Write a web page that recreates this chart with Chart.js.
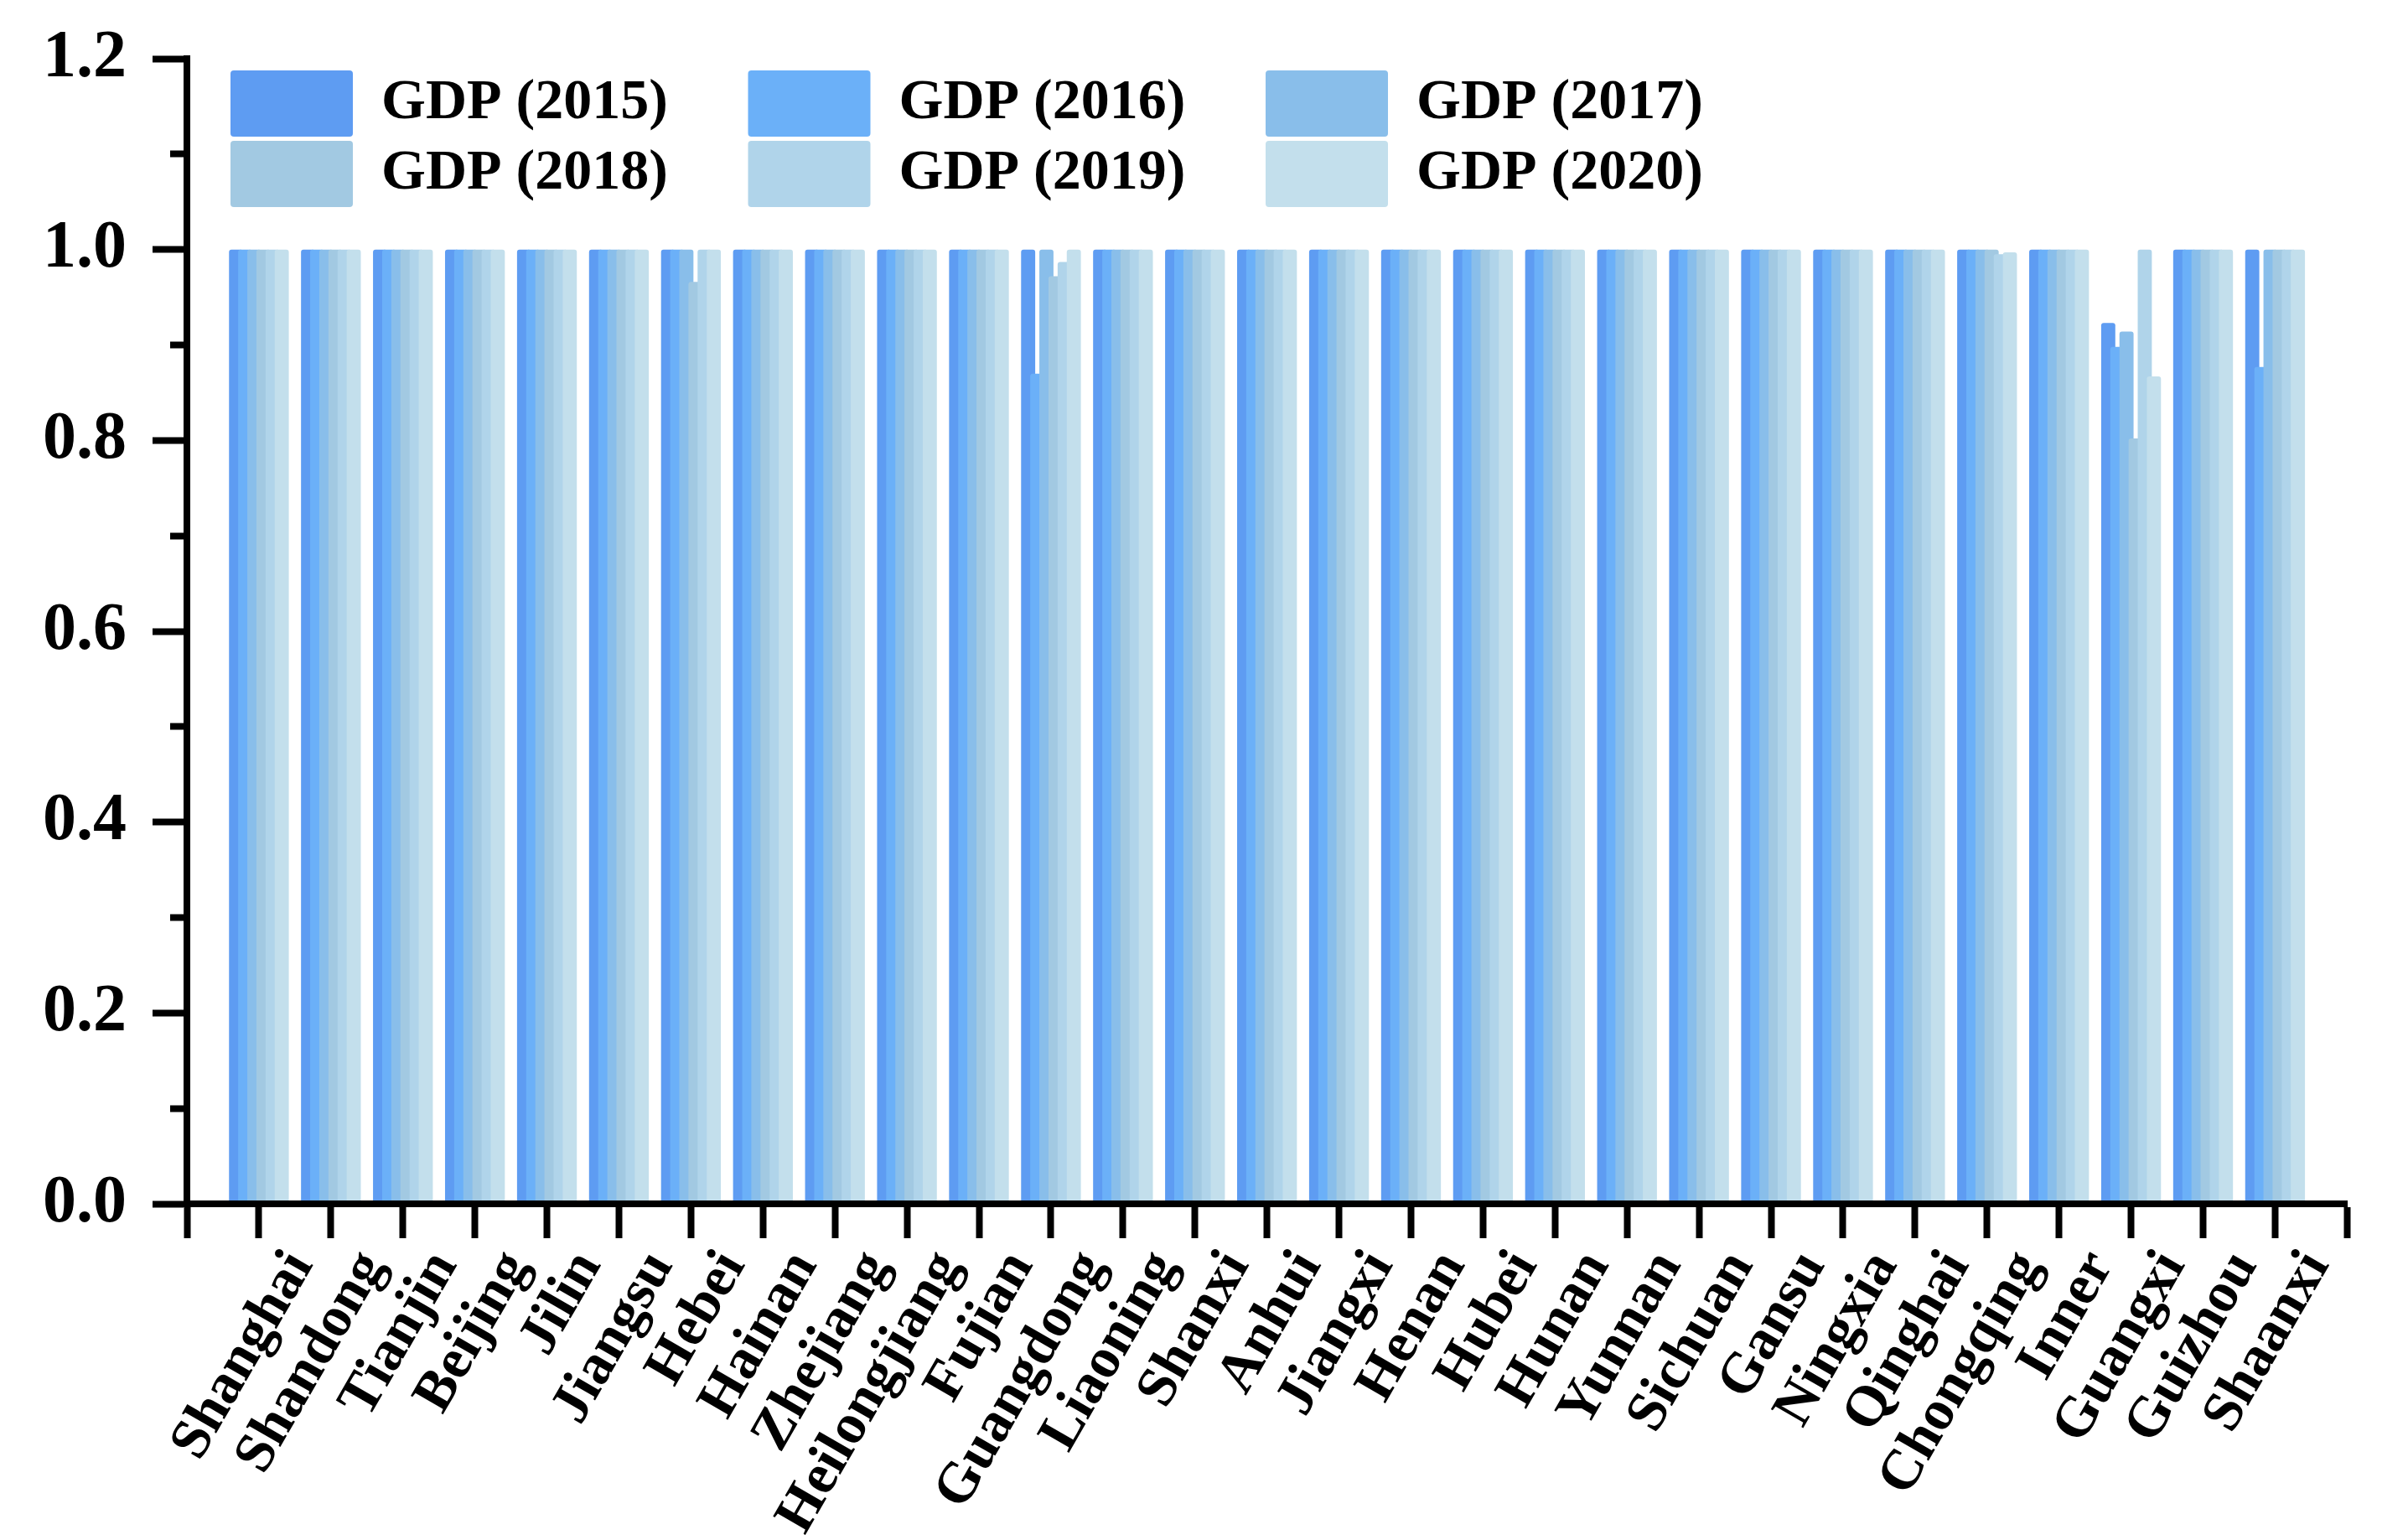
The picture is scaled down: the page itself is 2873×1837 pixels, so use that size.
<!DOCTYPE html>
<html>
<head>
<meta charset="utf-8">
<script src="https://cdn.jsdelivr.net/npm/chart.js@4.4.1/dist/chart.umd.min.js"></script>
<style>
  html, body { margin: 0; padding: 0; background: #ffffff; }
  #wrap { width: 2873px; height: 1837px; position: relative; }
  canvas { display: block; }
</style>
</head>
<body>
<div id="wrap"><canvas id="c" width="2873" height="1837"></canvas></div>
<script>
const categories = ['Shanghai','Shandong','Tianjin','Beijing','Jilin','Jiangsu','Hebei','Hainan','Zhejiang','Heilongjiang','Fujian','Guangdong','Liaoning','Shanxi','Anhui','Jiangxi','Henan','Hubei','Hunan','Yunnan','Sichuan','Gansu','Ningxia','Qinghai','Chongqing','Inner','Guangxi','Guizhou','Shaanxi'];

const seriesNames = ['GDP (2015)','GDP (2016)','GDP (2017)','GDP (2018)','GDP (2019)','GDP (2020)'];

//                Sha Shd Tia Bei Jil Jsu Heb    Hai Zhe Hei Fuj Gdg    Lia Sxi Anh Jxi Hen Hub Hun Yun Sic Gan Nin Qin Chq    Inn Gxi    Gzh Snx
const gdp2015 = [1,  1,  1,  1,  1,  1,  1,     1,  1,  1,  1,  1,     1,  1,  1,  1,  1,  1,  1,  1,  1,  1,  1,  1,  1,     1,  0.923, 1,  1];
const gdp2016 = [1,  1,  1,  1,  1,  1,  1,     1,  1,  1,  1,  0.870, 1,  1,  1,  1,  1,  1,  1,  1,  1,  1,  1,  1,  1,     1,  0.898, 1,  0.877];
const gdp2017 = [1,  1,  1,  1,  1,  1,  1,     1,  1,  1,  1,  1,     1,  1,  1,  1,  1,  1,  1,  1,  1,  1,  1,  1,  1,     1,  0.914, 1,  1];
const gdp2018 = [1,  1,  1,  1,  1,  1,  0.966, 1,  1,  1,  1,  0.972, 1,  1,  1,  1,  1,  1,  1,  1,  1,  1,  1,  1,  1,     1,  0.802, 1,  1];
const gdp2019 = [1,  1,  1,  1,  1,  1,  1,     1,  1,  1,  1,  0.987, 1,  1,  1,  1,  1,  1,  1,  1,  1,  1,  1,  1,  0.995, 1,  1,     1,  1];
const gdp2020 = [1,  1,  1,  1,  1,  1,  1,     1,  1,  1,  1,  1,     1,  1,  1,  1,  1,  1,  1,  1,  1,  1,  1,  1,  0.997, 1,  0.867, 1,  1];

const yTickLabels = ['0.0','0.2','0.4','0.6','0.8','1.0','1.2'];

const seriesValues = [gdp2015, gdp2016, gdp2017, gdp2018, gdp2019, gdp2020];
const seriesColors = ['#5e9cf2','#6bb0f8','#89beea','#a2c9e2','#b0d4ea','#c3dfec'];

// axis runs one full category step beyond the first and last category
const xLabels = [''].concat(categories, ['']);

const datasets = seriesValues.map((vals, i) => ({
  label: seriesNames[i],
  data: [null].concat(vals, [null]),
  backgroundColor: seriesColors[i],
  borderWidth: 0,
  borderRadius: 3,
  borderSkipped: 'start',
  categoryPercentage: 0.7612,
  barPercentage: 1.545
}));

// later series painted on top of earlier ones
const drawOrder = {
  id: 'drawOrder',
  beforeDatasetsDraw(chart) {
    const ctx = chart.ctx, a = chart.chartArea;
    ctx.save();
    ctx.beginPath();
    ctx.rect(a.left, a.top, a.right - a.left, a.bottom - a.top);
    ctx.clip();
    chart.getSortedVisibleDatasetMetas().forEach(m => m.controller.draw());
    ctx.restore();
    return false;
  }
};

// legend sits inside the plot, reserving no layout space
const legendPlacer = {
  id: 'legendPlacer',
  beforeLayout(chart) {
    const lg = chart.legend;
    if (lg && !lg.__patched) {
      const origFit = lg.fit;
      lg.fit = function () { origFit.call(this); this.height = 0; };
      lg.__patched = true;
    }
  },
  afterLayout(chart) {
    const lg = chart.legend;
    if (!lg) return;
    const L = 270, T = 79, W = 2130, H = 190;
    lg.left = L; lg.top = T; lg.width = W; lg.height = H;
    lg.right = L + W; lg.bottom = T + H;
  }
};

Chart.defaults.font.family = "'Liberation Serif', 'Times New Roman', serif";
Chart.defaults.font.weight = 'bold';
Chart.defaults.color = '#000000';

new Chart(document.getElementById('c'), {
  type: 'bar',
  data: { labels: xLabels, datasets: datasets },
  options: {
    responsive: false,
    devicePixelRatio: 1,
    animation: false,
    layout: { padding: { left: 0, top: 70, right: 49, bottom: 0 } },
    plugins: {
      tooltip: { enabled: false },
      legend: {
        display: true,
        position: 'top',
        align: 'start',
        labels: {
          boxWidth: 146,
          boxHeight: 79,
          padding: 5,
          useBorderRadius: true,
          borderRadius: 4,
          color: '#000000',
          font: { family: "'Liberation Serif', 'Times New Roman', serif", size: 68, weight: 'bold' },
          generateLabels(chart) {
            return chart.data.datasets.map((ds, i) => ({
              text: ds.label + '     \u200A',
              fillStyle: ds.backgroundColor,
              strokeStyle: ds.backgroundColor,
              lineWidth: 0,
              hidden: false,
              datasetIndex: i,
              borderRadius: 4
            }));
          }
        }
      }
    },
    scales: {
      x: {
        type: 'category',
        offset: false,
        afterFit(scale) { scale.height = 401; scale.paddingTop = 0; scale.paddingBottom = 0; },
        grid: {
          offset: false,
          drawOnChartArea: false,
          drawTicks: true,
          tickLength: 41,
          tickWidth: 8,
          tickColor: '#000000'
        },
        border: { display: true, color: '#000000', width: 8, z: 1 },
        ticks: {
          autoSkip: false,
          minRotation: 60,
          maxRotation: 60,
          padding: 2,
          labelOffset: 50,
          color: '#000000',
          font: { family: "'Liberation Serif', 'Times New Roman', serif", size: 68, weight: 'bold' }
        }
      },
      y: {
        min: 0,
        max: 1.2,
        afterFit(scale) { scale.width = 223; scale.paddingTop = 0; scale.paddingBottom = 0; },
        grid: {
          drawOnChartArea: false,
          drawTicks: true,
          tickLength: 41,
          tickWidth: 8,
          tickColor: '#000000',
          tickBorderDash: (c) => (c.index % 2 ? [16, 21] : []),
          tickBorderDashOffset: (c) => (c.index % 2 ? 16 : 0)
        },
        border: { display: true, color: '#000000', width: 8, z: 1 },
        ticks: {
          stepSize: 0.1,
          padding: 31,
          color: '#000000',
          font: { family: "'Liberation Serif', 'Times New Roman', serif", size: 80, weight: 'bold' },
          callback(value, index) { return index % 2 === 0 ? yTickLabels[index / 2] : ''; }
        }
      }
    }
  },
  plugins: [drawOrder, legendPlacer]
});
</script>
</body>
</html>
